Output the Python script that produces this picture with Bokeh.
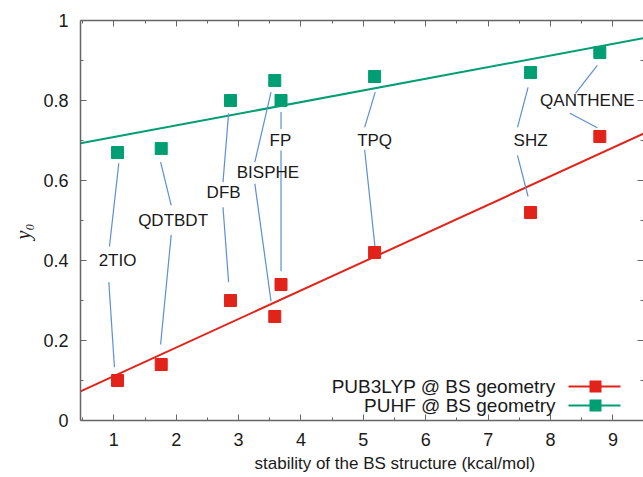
from bokeh.plotting import figure
from bokeh.models import (Range1d, LinearAxis, FixedTicker, Title, Label,
                          BoxAnnotation, ColumnDataSource, NumeralTickFormatter)
from bokeh.core.properties import value
from bokeh.embed import file_html
from bokeh.resources import INLINE

# ---------------- data ----------------
molecules = ["2TIO", "QDTBDT", "DFB", "BISPHE", "FP", "TPQ", "SHZ", "QANTHENE"]
stability = [1.06, 1.76, 2.87, 3.58, 3.68, 5.18, 7.68, 8.79]
y0_pub3lyp = [0.10, 0.14, 0.30, 0.26, 0.34, 0.42, 0.52, 0.71]
y0_puhf = [0.67, 0.68, 0.80, 0.85, 0.80, 0.86, 0.87, 0.92]

label_x = [1.06, 1.95, 2.76, 3.47, 3.67, 5.18, 7.68, 8.59]
label_y = [0.40, 0.50, 0.57, 0.62, 0.70, 0.70, 0.70, 0.80]

# leader lines: label -> PUHF point, label -> PUB3LYP point
lead_top_x0 = [0.93, 1.92, 2.75, 3.26, 3.68, 5.02, 7.47, 8.40]
lead_top_y0 = [0.435, 0.538, 0.596, 0.646, 0.729, 0.733, 0.733, 0.818]
lead_top_x1 = [1.08, 1.75, 2.84, 3.52, 3.68, 5.19, 7.64, 8.75]
lead_top_y1 = [0.643, 0.646, 0.768, 0.821, 0.771, 0.821, 0.833, 0.888]
lead_bot_x0 = [0.92, 1.92, 2.75, 3.26, 3.68, 5.02, 7.47, 8.31]
lead_bot_y0 = [0.346, 0.464, 0.533, 0.592, 0.675, 0.677, 0.663, 0.768]
lead_bot_x1 = [1.01, 1.75, 2.84, 3.52, 3.68, 5.19, 7.64, 8.75]
lead_bot_y1 = [0.133, 0.190, 0.346, 0.298, 0.373, 0.429, 0.560, 0.732]

# linear fit lines (end points)
fit_x = [0.466, 9.49]
fit_pub3lyp = [0.073, 0.717]
fit_puhf = [0.693, 0.956]

x_ticks = [1, 2, 3, 4, 5, 6, 7, 8, 9]
y_ticks = [0, 0.2, 0.4, 0.6, 0.8, 1.0]

series_names = ["PUB3LYP @ BS geometry", "PUHF @ BS geometry"]
x_title = "stability of the BS structure (kcal/mol)"
y_title = "y\u2080"

# ---------------- styling ----------------
RED = "#e2231a"
GREEN = "#009e73"
LEAD = "#5b8fd6"
AX = "#666666"
TXT = "#1a1a1a"
FONT = "Liberation Sans"

x_minor = [t + 0.5 for t in [0] + x_ticks]
y_minor = [t + 0.1 for t in [-0.2] + y_ticks]

src = ColumnDataSource(dict(x=stability, red=y0_pub3lyp, green=y0_puhf,
                            lx=label_x, ly=label_y, name=molecules,
                            tx0=lead_top_x0, ty0=lead_top_y0, tx1=lead_top_x1, ty1=lead_top_y1,
                            bx0=lead_bot_x0, by0=lead_bot_y0, bx1=lead_bot_x1, by1=lead_bot_y1))
fit = ColumnDataSource(dict(x=fit_x, red=fit_pub3lyp, green=fit_puhf))

p = figure(width=643, height=477, x_range=Range1d(fit_x[0], fit_x[1]), y_range=Range1d(0, 1),
           output_backend="svg", toolbar_location=None,
           min_border_left=80, min_border_right=0, min_border_top=20, min_border_bottom=57)
p.outline_line_color = None
p.xgrid.visible = False
p.ygrid.visible = False
p.background_fill_color = "white"

xt = FixedTicker(ticks=x_ticks, minor_ticks=x_minor)
yt = FixedTicker(ticks=y_ticks, minor_ticks=y_minor)


def style_axis(ax, show_labels=True, line=True):
    ax.axis_line_color = AX if line else None
    ax.axis_line_width = 1.5
    ax.major_tick_line_color = AX
    ax.minor_tick_line_color = AX
    ax.major_tick_in = 6
    ax.major_tick_out = 0
    ax.minor_tick_in = 3
    ax.minor_tick_out = 0
    if show_labels:
        ax.major_label_text_font = FONT
        ax.major_label_text_font_size = "18px"
        ax.major_label_text_color = TXT
        ax.major_label_standoff = 12
    else:
        ax.major_label_text_font_size = "0px"
        ax.major_label_text_alpha = 0
        ax.major_label_standoff = 0


xa = p.xaxis[0]
xa.ticker = xt
style_axis(xa)
ya = p.yaxis[0]
ya.ticker = yt
ya.formatter = NumeralTickFormatter(format="0.[0]")
style_axis(ya)

top = LinearAxis(ticker=xt)
style_axis(top, show_labels=False)
p.add_layout(top, "above")
right = LinearAxis(ticker=yt)
style_axis(right, show_labels=False, line=False)
p.add_layout(right, "right")

p.add_layout(Title(text=x_title, align="left", offset=174, standoff=7,
                   text_font=FONT, text_font_size="17px", text_font_style="normal",
                   text_color=TXT), "below")
p.add_layout(Title(text=y_title, align="left", offset=181, standoff=14,
                   text_font="Liberation Serif", text_font_size="20px", text_font_style="italic",
                   text_color=TXT), "left")

# fit lines
p.line("x", "red", source=fit, line_color=RED, line_width=2)
p.line("x", "green", source=fit, line_color=GREEN, line_width=2)

# leader lines
p.segment("tx0", "ty0", "tx1", "ty1", source=src, line_color=LEAD, line_width=1.2)
p.segment("bx0", "by0", "bx1", "by1", source=src, line_color=LEAD, line_width=1.2)

# points
p.scatter("x", "red", source=src, marker="square", size=12, fill_color=RED, line_color=RED)
p.scatter("x", "green", source=src, marker="square", size=12, fill_color=GREEN, line_color=GREEN)

# molecule labels
p.text("lx", "ly", text="name", source=src, text_align="center", text_baseline="middle",
       text_font=value(FONT), text_font_size="17px", text_color=TXT)

# legend (gnuplot style: text on the left, sample on the right)
for i, (name, col) in enumerate(zip(series_names, [RED, GREEN])):
    yc = 34 - 19 * i
    p.add_layout(Label(x=475, y=yc, x_units="screen", y_units="screen", text=name,
                       text_align="right", text_baseline="middle", text_font=FONT,
                       text_font_size="19px", text_color=TXT))
    p.add_layout(BoxAnnotation(left=488, right=540, bottom=yc - 1, top=yc + 1,
                               left_units="screen", right_units="screen",
                               bottom_units="screen", top_units="screen",
                               fill_color=col, fill_alpha=1, line_color=None))
    p.add_layout(BoxAnnotation(left=509, right=521, bottom=yc - 6, top=yc + 6,
                               left_units="screen", right_units="screen",
                               bottom_units="screen", top_units="screen",
                               fill_color=col, fill_alpha=1, line_color=None))

open("out.html", "w").write(file_html(p, INLINE))
